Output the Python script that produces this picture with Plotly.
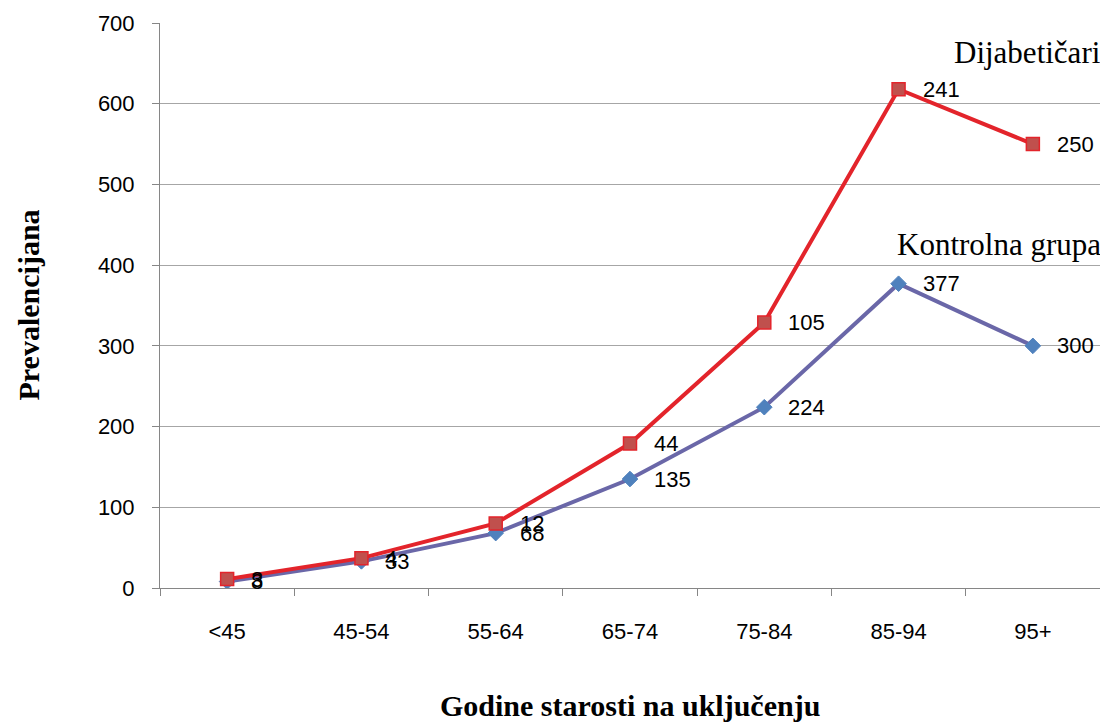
import plotly.graph_objects as go

categories = ["<45", "45-54", "55-64", "65-74", "75-84", "85-94", "95+"]
diab_values = [11, 37, 80, 179, 329, 618, 550]
diab_labels = ["3", "4", "12", "44", "105", "241", "250"]
ctrl_values = [8, 33, 68, 135, 224, 377, 300]
ctrl_labels = ["8", "33", "68", "135", "224", "377", "300"]
y_ticks = [0, 100, 200, 300, 400, 500, 600, 700]

fig = go.Figure()
fig.add_trace(go.Scatter(
    x=categories, y=ctrl_values, mode="lines+markers", name="Kontrolna grupa",
    line=dict(color="#6A67A8", width=4),
    marker=dict(symbol="diamond", size=12, color="#4F81BD", line=dict(color="#4F81BD", width=1)),
))
fig.add_trace(go.Scatter(
    x=categories, y=diab_values, mode="lines+markers", name="Dijabetičari",
    line=dict(color="#E3242B", width=4),
    marker=dict(symbol="square", size=13, color="#C0504D", line=dict(color="#E3242B", width=1.5)),
))

label_font = dict(family="Liberation Sans, Arial, sans-serif", size=22, color="#000000")
for cat, val, lab in zip(categories, ctrl_values, ctrl_labels):
    fig.add_annotation(x=cat, y=val, text=lab, showarrow=False, xanchor="left",
                       yanchor="middle", xshift=22, font=label_font)
for cat, val, lab in zip(categories, diab_values, diab_labels):
    fig.add_annotation(x=cat, y=val, text=lab, showarrow=False, xanchor="left",
                       yanchor="middle", xshift=22, font=label_font)

serif = "Liberation Serif, Times New Roman, serif"
fig.add_annotation(xref="paper", x=1.0, y=664, text="Dijabetičari", showarrow=False,
                   xanchor="right", yanchor="middle", xshift=3, font=dict(family=serif, size=31, color="#000"))
fig.add_annotation(xref="paper", x=1.0, y=425, text="Kontrolna grupa", showarrow=False,
                   xanchor="right", yanchor="middle", xshift=3, font=dict(family=serif, size=31, color="#000"))

# axis titles
fig.add_annotation(xref="paper", yref="paper", x=0.5, y=0, yshift=-117, text="<b>Godine starosti na uključenju</b>",
                   showarrow=False, xanchor="center", yanchor="middle", font=dict(family=serif, size=30, color="#000"))
fig.add_annotation(xref="paper", yref="paper", x=0, y=0.5, xshift=-132, text="<b>Prevalencijana</b>", textangle=-90,
                   showarrow=False, xanchor="center", yanchor="middle", font=dict(family=serif, size=30, color="#000"))

# page body has an 8px margin, so the figure is sized and offset to compensate
fig.update_layout(
    width=1100, height=715,
    margin=dict(l=152, r=8, t=15, b=135, autoexpand=False),
    paper_bgcolor="white", plot_bgcolor="white",
    showlegend=False,
    font=dict(family="Liberation Sans, Arial, sans-serif", size=22, color="#000"),
)
fig.update_xaxes(
    type="category", range=[-0.5, 6.5], tickson="boundaries", automargin=False,
    ticks="outside", ticklen=7, tickcolor="#868686",
    showline=True, linecolor="#868686", linewidth=1, showgrid=False,
    tickfont=dict(size=22), ticklabelstandoff=24,
)
fig.update_yaxes(
    range=[0, 700], tickvals=y_ticks, ticks="outside", ticklen=7, tickcolor="#868686", automargin=False,
    showline=True, linecolor="#868686", linewidth=1,
    showgrid=True, gridcolor="#A6A6A6", gridwidth=1, zeroline=False,
    tickfont=dict(size=22), ticklabelstandoff=13,
)

fig.write_html("out.html")
